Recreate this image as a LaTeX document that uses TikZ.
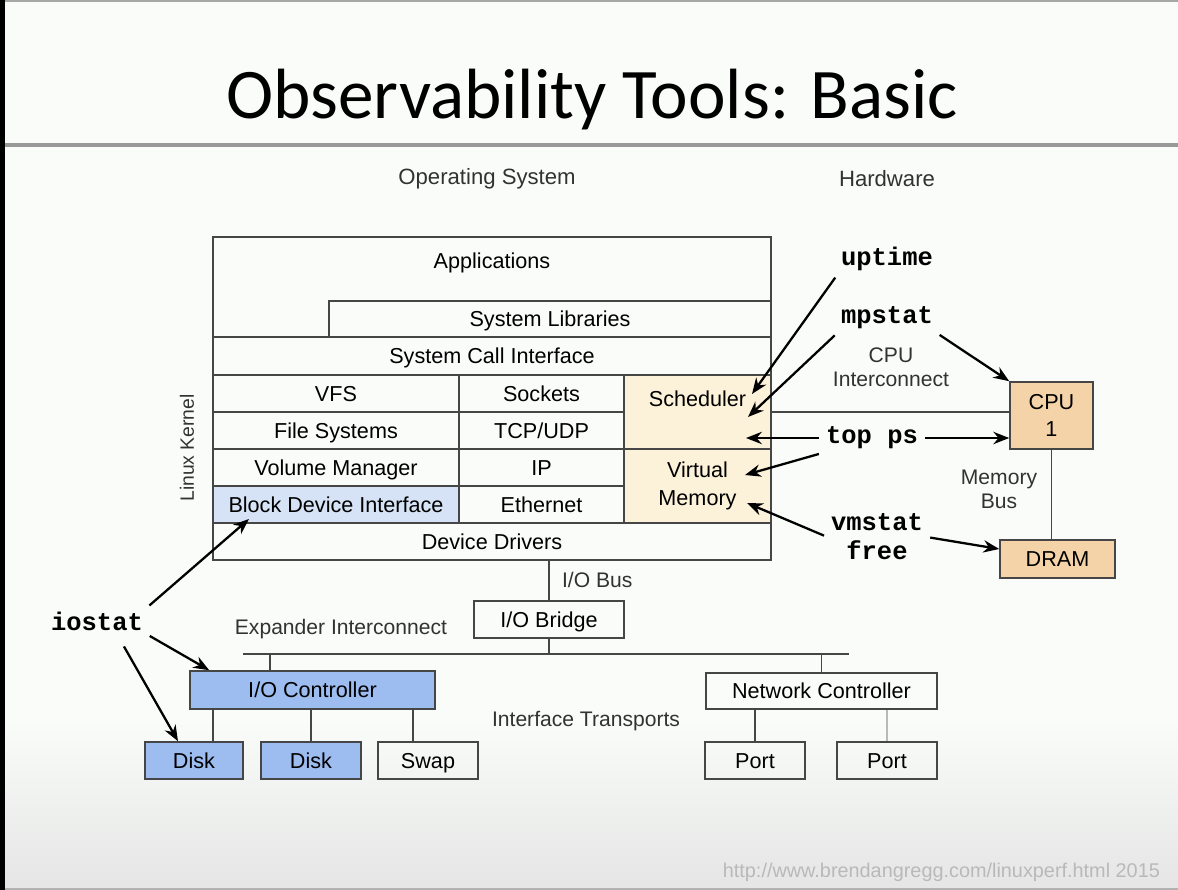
\documentclass[tikz,border=0pt]{standalone}
\usepackage{fontspec}
\setmainfont{Liberation Sans}
\setmonofont{Liberation Mono}
\newfontfamily\titlefont{Carlito}
\usetikzlibrary{positioning, arrows.meta, calc}
\definecolor{boxline}{RGB}{70,70,70}
\definecolor{bluelight}{RGB}{214,226,246}
\definecolor{bluemid}{RGB}{157,188,240}
\definecolor{creamfill}{RGB}{252,241,217}
\definecolor{tanfill}{RGB}{244,211,169}
\definecolor{labelgray}{RGB}{50,50,50}
\definecolor{slidebg}{RGB}{250,252,250}
\definecolor{slidegray}{RGB}{228,229,228}

\begin{document}
\begin{tikzpicture}[x=0.02cm, y=-0.02cm,
  body/.style={font=\fontsize{12.3}{15}\selectfont, text=black, text height=8.8pt, text depth=0pt},
  box/.style={draw=boxline, line width=0.9pt, minimum height=0.74cm, inner sep=0pt},
  cell/.style={box, body},
  multi/.style={font=\fontsize{12.3}{15.5}\selectfont, text=black, align=center},
  note/.style={font=\fontsize{12}{13.8}\selectfont, text=labelgray, align=center, inner sep=1pt},
  tool/.style={font=\ttfamily\bfseries\fontsize{14.5}{16}\selectfont, inner sep=2pt, align=center},
  wire/.style={draw=boxline, line width=0.9pt},
  toolarrow/.style={-{Stealth[length=9pt,width=7pt]}, line width=1.3pt, shorten <=2pt}]

  \useasboundingbox (0,0) rectangle (1178,890);
  \fill[slidebg] (0,0) rectangle (1178,890);
  \shade[top color=slidebg, bottom color=slidegray] (0,720) rectangle (1178,890);
  \fill[black] (0,0) rectangle (5,890);
  \draw[gray!70, line width=1.5pt] (5,1) -- (1178,1);
  \draw[gray!80, line width=2pt] (5,145) -- (1178,145);
  \draw[gray!60, line width=1pt] (5,889) -- (1178,889);

  \node[font=\titlefont\fontsize{40.5}{44}\selectfont, anchor=base] (title) at (592,118) {Observability Tools: Basic};

  \node[note, font=\fontsize{12.6}{14}\selectfont] (ostext) at (487,179) {Operating System};
  \node[note, font=\fontsize{12.6}{14}\selectfont] (hwtext) at (887,179) {Hardware};
  \node[note, rotate=90, font=\fontsize{11}{13}\selectfont] (kerneltext) at (187,448) {Linux Kernel};

  \node[box, minimum width=11.16cm, minimum height=6.46cm] (stack) at (492,398.5) {};
  \node[body] (apps) at (492,261) {Applications};
  \node[cell, minimum width=8.84cm, minimum height=0.72cm] (syslib) at (550,319) {System Libraries};
  \node[cell, minimum width=11.16cm, minimum height=0.76cm] (syscall) at (492,356) {System Call Interface};
  \node[cell, minimum width=4.92cm] (vfs) at (336,393.5) {VFS};
  \node[cell, minimum width=3.3cm] (sockets) at (541.5,393.5) {Sockets};
  \node[cell, minimum width=4.92cm] (fs) at (336,430.5) {File Systems};
  \node[cell, minimum width=3.3cm] (tcp) at (541.5,430.5) {TCP/UDP};
  \node[cell, minimum width=4.92cm] (volmgr) at (336,467.5) {Volume Manager};
  \node[cell, minimum width=3.3cm] (ip) at (541.5,467.5) {IP};
  \node[cell, minimum width=4.92cm, fill=bluelight] (blockdev) at (336,504.5) {Block Device Interface};
  \node[cell, minimum width=3.3cm] (ethernet) at (541.5,504.5) {Ethernet};
  \node[box, minimum width=2.94cm, minimum height=1.48cm, fill=creamfill] (sched) at (697.5,412) {};
  \node[body] (schedtext) at (697.5,399) {Scheduler};
  \node[box, multi, minimum width=2.94cm, minimum height=1.48cm, fill=creamfill] (vmem) at (697.5,486) {Virtual\\Memory};
  \node[cell, minimum width=11.16cm] (drivers) at (492,541.5) {Device Drivers};

  \node[box, multi, minimum width=1.66cm, minimum height=1.34cm, fill=tanfill] (cpu) at (1051.5,415.5) {CPU\\1};
  \node[cell, minimum width=2.3cm, minimum height=0.76cm, fill=tanfill] (dram) at (1057.5,559) {DRAM};
  \draw[wire] (sched.east) -- (sched.east -| cpu.west);
  \draw[wire] (cpu.south) -- (cpu.south |- dram.north);
  \node[note] (cpuic) at (891,367) {CPU\\Interconnect};
  \node[note] (membus) at (999,489) {Memory\\Bus};

  \node[tool] (uptime) at (887,259) {uptime};
  \node[tool] (mpstat) at (887,318) {mpstat};
  \node[tool] (topps) at (872,438) {top ps};
  \node[tool, font=\ttfamily\bfseries\fontsize{14.5}{16.5}\selectfont] (vmfree) at (877,537) {vmstat\\free};
  \node[tool] (iostat) at (97,621) {iostat};

  \coordinate (schedup) at (752,394);
  \coordinate (schedmp) at (748,417);
  \coordinate (schedtp) at (746,438);
  \coordinate (vmtp) at (745,475);
  \coordinate (vmvm) at (747,503);
  \coordinate (bdtip) at (249,519);

  \draw[toolarrow] (uptime.south west) -- (schedup);
  \draw[toolarrow] (mpstat.south west) -- (schedmp);
  \draw[toolarrow] (mpstat.south east) -- (cpu.north west);
  \draw[toolarrow] (topps.west) -- (schedtp);
  \draw[toolarrow] (topps.east) -- (topps.east -| cpu.west);
  \draw[toolarrow] (topps.south west) -- (vmtp);
  \draw[toolarrow] (vmfree.west) -- (vmvm);
  \draw[toolarrow] (vmfree.east) -- ([yshift=0.2cm]dram.west);

  \node[cell, minimum width=3cm] (bridge) at (549,619.5) {I/O Bridge};
  \draw[wire] (drivers.south -| bridge.north) -- (bridge.north);
  \node[note, anchor=west] (iobus) at (560,580) {I/O Bus};
  \coordinate (busleft) at (243,654);
  \coordinate (busright) at (849,654);
  \draw[wire] (busleft) -- (busright);
  \draw[wire] (bridge.south) -- (bridge.south |- busleft);
  \node[note] (expander) at (341,629) {Expander Interconnect};

  \node[cell, minimum width=4.9cm, minimum height=0.76cm, fill=bluemid] (ioctl) at (312.5,690) {I/O Controller};
  \node[cell, minimum width=1.96cm, fill=bluemid] (disk1) at (194,760.5) {Disk};
  \node[cell, minimum width=2cm, fill=bluemid] (disk2) at (311,760.5) {Disk};
  \node[cell, minimum width=2cm] (swap) at (428,760.5) {Swap};
  \coordinate (ioctltap) at ([xshift=-0.85cm]ioctl.north);
  \coordinate (disk1tap) at ([xshift=0.38cm]disk1.north);
  \coordinate (swaptap) at ([xshift=-0.3cm]swap.north);
  \draw[wire] (ioctltap) -- (ioctltap |- busleft);
  \draw[wire] (disk1tap) -- (disk1tap |- ioctl.south);
  \draw[wire] (disk2.north) -- (disk2.north |- ioctl.south);
  \draw[wire] (swaptap) -- (swaptap |- ioctl.south);

  \node[cell, minimum width=4.62cm, minimum height=0.72cm] (netctl) at (821.5,691) {Network Controller};
  \node[cell, minimum width=2cm] (port1) at (755,760.5) {Port};
  \node[cell, minimum width=2cm] (port2) at (887,760.5) {Port};
  \draw[wire] (netctl.north) -- (netctl.north |- busright);
  \draw[wire] (port1.north) -- (port1.north |- netctl.south);
  \draw[wire, draw=gray!55] (port2.north) -- (port2.north |- netctl.south);
  \node[note] (transports) at (586,721) {Interface Transports};

  \draw[toolarrow] (iostat.north east) -- (bdtip);
  \draw[toolarrow] (iostat.south east) -- ([xshift=0.4cm]ioctl.north west);
  \draw[toolarrow, shorten <=8pt] ([xshift=0.4cm]iostat.south) -- ([xshift=-0.32cm]disk1.north);

  \node[note, text=gray!55, anchor=east, font=\fontsize{11.3}{13}\selectfont] (footer) at (1162,872) {http://www.brendangregg.com/linuxperf.html 2015};
\end{tikzpicture}
\end{document}
